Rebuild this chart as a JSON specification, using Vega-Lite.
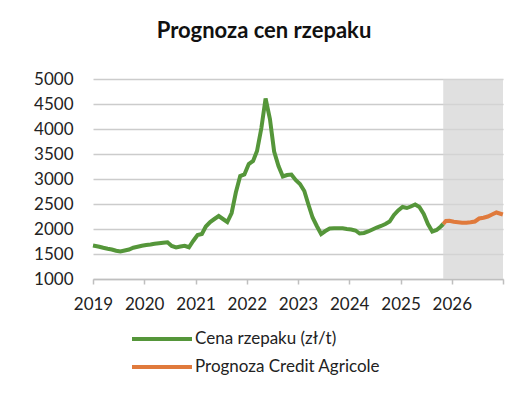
{
  "$schema": "https://vega.github.io/schema/vega-lite/v6.json",
  "width": 410,
  "height": 200,
  "autosize": {"type": "none"},
  "padding": {"left": 93, "top": 79, "right": 28, "bottom": 135},
  "background": "white",
  "config": {
    "font": "Lato",
    "view": {"stroke": null}
  },
  "title": {
    "text": "Prognoza cen rzepaku",
    "fontSize": 22,
    "fontWeight": "bold",
    "color": "#111111",
    "anchor": "middle",
    "dx": -34,
    "offset": 5,
    "baseline": "bottom"
  },
  "datasets": {
    "band": [{"start": "2025-11-01", "end": "2027-01-01"}],
    "prices": [
      {"date": "2019-01-01", "value": 1670, "series": "Cena rzepaku (zł/t)"},
      {"date": "2019-02-15", "value": 1645, "series": "Cena rzepaku (zł/t)"},
      {"date": "2019-03-15", "value": 1625, "series": "Cena rzepaku (zł/t)"},
      {"date": "2019-04-15", "value": 1605, "series": "Cena rzepaku (zł/t)"},
      {"date": "2019-05-15", "value": 1590, "series": "Cena rzepaku (zł/t)"},
      {"date": "2019-06-15", "value": 1565, "series": "Cena rzepaku (zł/t)"},
      {"date": "2019-07-15", "value": 1550, "series": "Cena rzepaku (zł/t)"},
      {"date": "2019-08-15", "value": 1570, "series": "Cena rzepaku (zł/t)"},
      {"date": "2019-09-15", "value": 1590, "series": "Cena rzepaku (zł/t)"},
      {"date": "2019-10-15", "value": 1625, "series": "Cena rzepaku (zł/t)"},
      {"date": "2019-11-15", "value": 1645, "series": "Cena rzepaku (zł/t)"},
      {"date": "2019-12-15", "value": 1665, "series": "Cena rzepaku (zł/t)"},
      {"date": "2020-01-15", "value": 1680, "series": "Cena rzepaku (zł/t)"},
      {"date": "2020-02-15", "value": 1690, "series": "Cena rzepaku (zł/t)"},
      {"date": "2020-03-15", "value": 1705, "series": "Cena rzepaku (zł/t)"},
      {"date": "2020-04-15", "value": 1715, "series": "Cena rzepaku (zł/t)"},
      {"date": "2020-05-15", "value": 1725, "series": "Cena rzepaku (zł/t)"},
      {"date": "2020-06-15", "value": 1735, "series": "Cena rzepaku (zł/t)"},
      {"date": "2020-07-15", "value": 1660, "series": "Cena rzepaku (zł/t)"},
      {"date": "2020-08-15", "value": 1630, "series": "Cena rzepaku (zł/t)"},
      {"date": "2020-09-15", "value": 1650, "series": "Cena rzepaku (zł/t)"},
      {"date": "2020-10-15", "value": 1665, "series": "Cena rzepaku (zł/t)"},
      {"date": "2020-11-15", "value": 1635, "series": "Cena rzepaku (zł/t)"},
      {"date": "2020-12-15", "value": 1760, "series": "Cena rzepaku (zł/t)"},
      {"date": "2021-01-15", "value": 1880, "series": "Cena rzepaku (zł/t)"},
      {"date": "2021-02-15", "value": 1900, "series": "Cena rzepaku (zł/t)"},
      {"date": "2021-03-15", "value": 2050, "series": "Cena rzepaku (zł/t)"},
      {"date": "2021-04-15", "value": 2140, "series": "Cena rzepaku (zł/t)"},
      {"date": "2021-05-15", "value": 2200, "series": "Cena rzepaku (zł/t)"},
      {"date": "2021-06-15", "value": 2260, "series": "Cena rzepaku (zł/t)"},
      {"date": "2021-07-15", "value": 2200, "series": "Cena rzepaku (zł/t)"},
      {"date": "2021-08-15", "value": 2140, "series": "Cena rzepaku (zł/t)"},
      {"date": "2021-09-15", "value": 2320, "series": "Cena rzepaku (zł/t)"},
      {"date": "2021-10-15", "value": 2730, "series": "Cena rzepaku (zł/t)"},
      {"date": "2021-11-15", "value": 3060, "series": "Cena rzepaku (zł/t)"},
      {"date": "2021-12-15", "value": 3090, "series": "Cena rzepaku (zł/t)"},
      {"date": "2022-01-15", "value": 3300, "series": "Cena rzepaku (zł/t)"},
      {"date": "2022-02-15", "value": 3360, "series": "Cena rzepaku (zł/t)"},
      {"date": "2022-03-15", "value": 3560, "series": "Cena rzepaku (zł/t)"},
      {"date": "2022-04-15", "value": 4020, "series": "Cena rzepaku (zł/t)"},
      {"date": "2022-05-15", "value": 4610, "series": "Cena rzepaku (zł/t)"},
      {"date": "2022-06-15", "value": 4200, "series": "Cena rzepaku (zł/t)"},
      {"date": "2022-07-15", "value": 3550, "series": "Cena rzepaku (zł/t)"},
      {"date": "2022-08-15", "value": 3260, "series": "Cena rzepaku (zł/t)"},
      {"date": "2022-09-15", "value": 3050, "series": "Cena rzepaku (zł/t)"},
      {"date": "2022-10-15", "value": 3080, "series": "Cena rzepaku (zł/t)"},
      {"date": "2022-11-15", "value": 3090, "series": "Cena rzepaku (zł/t)"},
      {"date": "2022-12-15", "value": 2980, "series": "Cena rzepaku (zł/t)"},
      {"date": "2023-01-15", "value": 2900, "series": "Cena rzepaku (zł/t)"},
      {"date": "2023-02-15", "value": 2760, "series": "Cena rzepaku (zł/t)"},
      {"date": "2023-03-15", "value": 2500, "series": "Cena rzepaku (zł/t)"},
      {"date": "2023-04-15", "value": 2230, "series": "Cena rzepaku (zł/t)"},
      {"date": "2023-05-15", "value": 2060, "series": "Cena rzepaku (zł/t)"},
      {"date": "2023-06-15", "value": 1900, "series": "Cena rzepaku (zł/t)"},
      {"date": "2023-07-15", "value": 1960, "series": "Cena rzepaku (zł/t)"},
      {"date": "2023-08-15", "value": 2010, "series": "Cena rzepaku (zł/t)"},
      {"date": "2023-09-15", "value": 2013, "series": "Cena rzepaku (zł/t)"},
      {"date": "2023-10-15", "value": 2013, "series": "Cena rzepaku (zł/t)"},
      {"date": "2023-11-15", "value": 2013, "series": "Cena rzepaku (zł/t)"},
      {"date": "2023-12-15", "value": 2000, "series": "Cena rzepaku (zł/t)"},
      {"date": "2024-01-15", "value": 1990, "series": "Cena rzepaku (zł/t)"},
      {"date": "2024-02-15", "value": 1970, "series": "Cena rzepaku (zł/t)"},
      {"date": "2024-03-15", "value": 1910, "series": "Cena rzepaku (zł/t)"},
      {"date": "2024-04-15", "value": 1920, "series": "Cena rzepaku (zł/t)"},
      {"date": "2024-05-15", "value": 1950, "series": "Cena rzepaku (zł/t)"},
      {"date": "2024-06-15", "value": 1990, "series": "Cena rzepaku (zł/t)"},
      {"date": "2024-07-15", "value": 2030, "series": "Cena rzepaku (zł/t)"},
      {"date": "2024-08-15", "value": 2060, "series": "Cena rzepaku (zł/t)"},
      {"date": "2024-09-15", "value": 2100, "series": "Cena rzepaku (zł/t)"},
      {"date": "2024-10-15", "value": 2150, "series": "Cena rzepaku (zł/t)"},
      {"date": "2024-11-15", "value": 2280, "series": "Cena rzepaku (zł/t)"},
      {"date": "2024-12-15", "value": 2370, "series": "Cena rzepaku (zł/t)"},
      {"date": "2025-01-15", "value": 2440, "series": "Cena rzepaku (zł/t)"},
      {"date": "2025-02-15", "value": 2420, "series": "Cena rzepaku (zł/t)"},
      {"date": "2025-03-15", "value": 2450, "series": "Cena rzepaku (zł/t)"},
      {"date": "2025-04-15", "value": 2490, "series": "Cena rzepaku (zł/t)"},
      {"date": "2025-05-15", "value": 2440, "series": "Cena rzepaku (zł/t)"},
      {"date": "2025-06-15", "value": 2300, "series": "Cena rzepaku (zł/t)"},
      {"date": "2025-07-15", "value": 2100, "series": "Cena rzepaku (zł/t)"},
      {"date": "2025-08-15", "value": 1950, "series": "Cena rzepaku (zł/t)"},
      {"date": "2025-09-15", "value": 1980, "series": "Cena rzepaku (zł/t)"},
      {"date": "2025-10-15", "value": 2050, "series": "Cena rzepaku (zł/t)"},
      {"date": "2025-11-01", "value": 2100, "series": "Cena rzepaku (zł/t)"},
      {"date": "2025-11-01", "value": 2100, "series": "Prognoza Credit Agricole"},
      {"date": "2025-11-20", "value": 2160, "series": "Prognoza Credit Agricole"},
      {"date": "2025-12-15", "value": 2165, "series": "Prognoza Credit Agricole"},
      {"date": "2026-01-15", "value": 2145, "series": "Prognoza Credit Agricole"},
      {"date": "2026-02-15", "value": 2135, "series": "Prognoza Credit Agricole"},
      {"date": "2026-03-15", "value": 2125, "series": "Prognoza Credit Agricole"},
      {"date": "2026-04-15", "value": 2125, "series": "Prognoza Credit Agricole"},
      {"date": "2026-05-15", "value": 2135, "series": "Prognoza Credit Agricole"},
      {"date": "2026-06-15", "value": 2150, "series": "Prognoza Credit Agricole"},
      {"date": "2026-07-15", "value": 2210, "series": "Prognoza Credit Agricole"},
      {"date": "2026-08-15", "value": 2225, "series": "Prognoza Credit Agricole"},
      {"date": "2026-09-15", "value": 2250, "series": "Prognoza Credit Agricole"},
      {"date": "2026-10-15", "value": 2290, "series": "Prognoza Credit Agricole"},
      {"date": "2026-11-15", "value": 2330, "series": "Prognoza Credit Agricole"},
      {"date": "2026-12-31", "value": 2290, "series": "Prognoza Credit Agricole"}
    ]
  },
  "layer": [
    {
      "data": {"name": "band"},
      "mark": {"type": "rect", "color": "#d6d6d6", "opacity": 0.75},
      "encoding": {
        "x": {"field": "start", "type": "temporal"},
        "x2": {"field": "end"}
      }
    },
    {
      "data": {"name": "prices"},
      "mark": {"type": "line", "strokeWidth": 4, "interpolate": "linear"},
      "encoding": {
        "x": {
          "field": "date",
          "type": "temporal",
          "title": null,
          "scale": {
            "type": "utc",
            "domain": [
              {"year": 2019, "month": 1, "date": 1, "utc": true},
              {"year": 2027, "month": 1, "date": 1, "utc": true}
            ]
          },
          "axis": {
            "tickCount": {"interval": "year", "step": 1},
            "labelExpr": "utcFormat(datum.value, '%Y') == '2027' ? '' : utcFormat(datum.value, '%Y')",
            "grid": false,
            "domainColor": "#bfbfbf",
            "domainWidth": 1.5,
            "tickColor": "#bfbfbf",
            "tickWidth": 1.5,
            "tickSize": 5,
            "labelFontSize": 17,
            "labelColor": "#222222",
            "labelPadding": 12,
            "labelAlign": "center",
            "labelFlush": false
          }
        },
        "y": {
          "field": "value",
          "type": "quantitative",
          "title": null,
          "scale": {"domain": [1000, 5000], "nice": false, "zero": false},
          "axis": {
            "values": [1000, 1500, 2000, 2500, 3000, 3500, 4000, 4500, 5000],
            "format": "d",
            "domain": false,
            "ticks": false,
            "gridColor": "#cccccc",
            "gridWidth": 1.5,
            "labelFontSize": 17,
            "labelColor": "#222222",
            "labelPadding": 20
          }
        },
        "color": {
          "field": "series",
          "type": "nominal",
          "scale": {
            "domain": ["Cena rzepaku (zł/t)", "Prognoza Credit Agricole"],
            "range": ["#55963a", "#e07a3c"]
          },
          "legend": {
            "title": null,
            "orient": "none",
            "legendX": 37,
            "legendY": 249,
            "direction": "vertical",
            "symbolType": "stroke",
            "symbolSize": 3600,
            "symbolStrokeWidth": 4,
            "clipHeight": 22,
            "labelFontSize": 17,
            "labelColor": "#222222",
            "labelOffset": 1,
            "labelLimit": 400,
            "rowPadding": 6
          }
        }
      }
    }
  ]
}
